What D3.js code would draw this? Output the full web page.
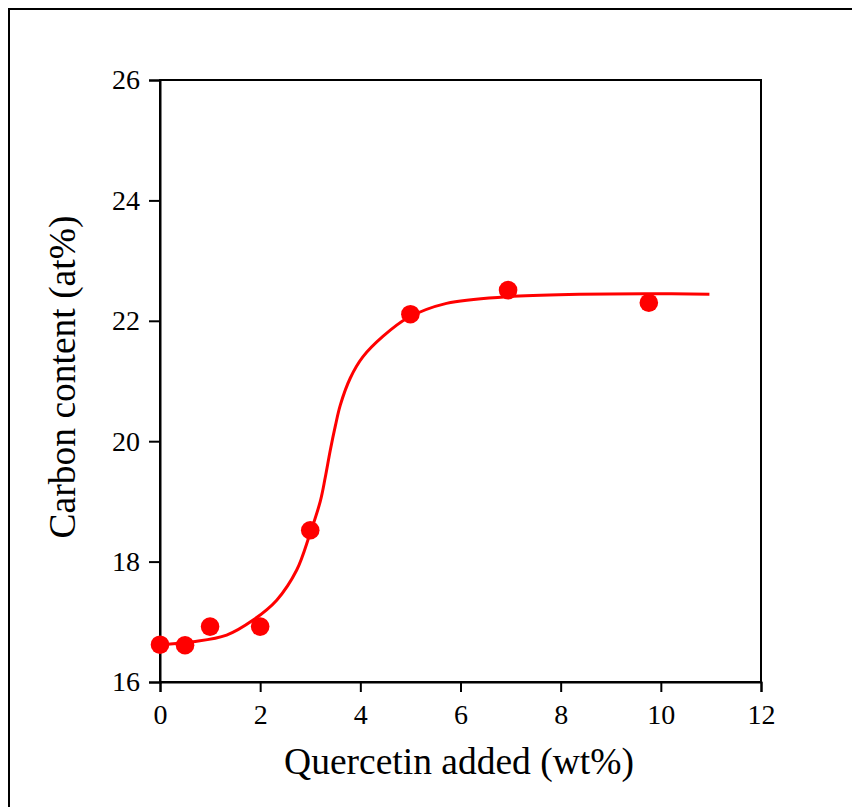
<!DOCTYPE html>
<html><head><meta charset="utf-8">
<script src="https://cdn.jsdelivr.net/npm/d3@7"></script>
<style>html,body{margin:0;padding:0;background:#fff;overflow:hidden}</style>
</head><body>
<svg id="c" width="852" height="807"></svg>
<script>
const pointX = [0, 0.5, 1, 2, 3, 5, 6.95, 9.76];
const pointY = [16.62, 16.61, 16.92, 16.92, 18.52, 22.11, 22.51, 22.30];
const fitX = [0, 0.66, 1.33, 1.86, 2.33, 2.73, 2.99, 3.2, 3.3, 3.4, 3.5, 3.6, 3.8, 4.05, 4.45, 4.95, 5.72, 6.95, 8.37, 9.7, 10.97];
const fitY = [16.62, 16.67, 16.78, 17.03, 17.36, 17.86, 18.45, 19.0, 19.4, 19.85, 20.25, 20.6, 21.05, 21.40, 21.74, 22.05, 22.29, 22.40, 22.44, 22.45, 22.44];
const xTicks = [0, 2, 4, 6, 8, 10, 12];
const yTicks = [16, 18, 20, 22, 24, 26];
const xTitle = "Quercetin added (wt%)";
const yTitle = "Carbon content (at%)";

const svg = d3.select("#c");
const L = 160, R = 761, T = 80, B = 682;
const x = d3.scaleLinear().domain([0, 12]).range([L, R]);
const y = d3.scaleLinear().domain([16, 26]).range([B, T]);
const font = "'Liberation Serif','Times New Roman',serif";

// outer figure border (left and top visible)
svg.append("rect").attr("x", 9).attr("y", 9).attr("width", 900).attr("height", 900)
  .attr("fill", "none").attr("stroke", "#000").attr("stroke-width", 2);

// plot frame
svg.append("rect").attr("x", L).attr("y", T).attr("width", R - L).attr("height", B - T)
  .attr("fill", "none").attr("stroke", "#000").attr("stroke-width", 2);

const xAxis = svg.append("g").attr("transform", `translate(0,${B})`)
  .call(d3.axisBottom(x).tickValues(xTicks).tickSize(10).tickPadding(12).tickFormat(d3.format("d")));
const yAxis = svg.append("g").attr("transform", `translate(${L},0)`)
  .call(d3.axisLeft(y).tickValues(yTicks).tickSize(11).tickPadding(9).tickFormat(d3.format("d")));
[xAxis, yAxis].forEach(g => {
  g.attr("font-family", font).attr("font-size", 28);
  g.select(".domain").attr("stroke-width", 2);
  g.selectAll(".tick line").attr("stroke-width", 2);
  g.selectAll(".tick text").attr("font-family", font).attr("font-size", 28).attr("fill", "#000");
});

// fit curve
svg.append("path")
  .datum(fitX.map((d, i) => [d, fitY[i]]))
  .attr("fill", "none").attr("stroke", "#ff0000").attr("stroke-width", 3)
  .attr("d", d3.line().x(d => x(d[0])).y(d => y(d[1])).curve(d3.curveCatmullRom.alpha(0.5)));

// points
svg.append("g").selectAll("circle")
  .data(pointX.map((d, i) => [d, pointY[i]]))
  .join("circle")
  .attr("cx", d => x(d[0])).attr("cy", d => y(d[1])).attr("r", 9.3)
  .attr("fill", "#ff0000");

// titles
svg.append("text").attr("x", 459).attr("y", 774).attr("text-anchor", "middle")
  .attr("font-family", font).attr("font-size", 37.5).attr("fill", "#000").text(xTitle);
svg.append("text").attr("transform", "translate(75,377) rotate(-90)").attr("text-anchor", "middle")
  .attr("font-family", font).attr("font-size", 37.5).attr("fill", "#000").text(yTitle);
</script>
</body></html>
